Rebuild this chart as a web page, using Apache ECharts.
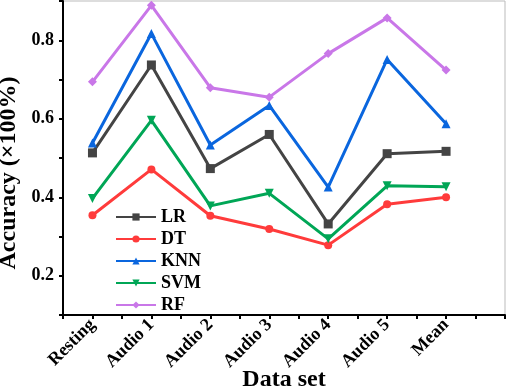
<!DOCTYPE html>
<html lang="en">
<head>
	<meta charset="UTF-8">
	<title>Accuracy</title>
	<style>
	body, div {
		margin: 0;
		padding: 0;
	}
	#echart {
		width: 512px;
		height: 389px;
	}
	</style>
</head>
<body>
	<div id="echart"></div>

	<script src="https://cdn.jsdelivr.net/npm/echarts@6/dist/echarts.min.js"></script>

	<script>
	// data
	var categories = ['Resting', 'Audio 1', 'Audio 2', 'Audio 3', 'Audio 4', 'Audio 5', 'Mean'];
	var lr  = [0.513, 0.737, 0.473, 0.560, 0.332, 0.511, 0.517];
	var dt  = [0.354, 0.471, 0.353, 0.319, 0.278, 0.382, 0.400];
	var knn = [0.538, 0.817, 0.533, 0.634, 0.426, 0.751, 0.587];
	var svm = [0.397, 0.596, 0.378, 0.410, 0.294, 0.429, 0.427];
	var rf  = [0.694, 0.889, 0.679, 0.655, 0.766, 0.857, 0.724];
	var yLabels = [0.2, 0.4, 0.6, 0.8];

	var font = 'Liberation Serif';

	function pts(arr) {
		return arr.map(function (v, i) { return [i + 1, v]; });
	}

	function line(name, arr, color, symbol, rotate) {
		return {
			name: name,
			type: 'line',
			data: pts(arr),
			symbol: symbol,
			symbolSize: symbol === 'circle' ? 8 : 9,
			symbolRotate: rotate || 0,
			lineStyle: { width: 3, color: color },
			itemStyle: { color: color },
			z: 3
		};
	}

	var myEchart = echarts.init(document.getElementById('echart'));

	var option = {
		animation: false,
		grid: {
			left: 63,
			right: 7,
			top: 1,
			bottom: 74,
			outerBoundsMode: 'none',
			containLabel: false,
			show: true,
			borderColor: '#bbbbbb',
			borderWidth: 1
		},
		legend: {
			orient: 'vertical',
			left: 110,
			top: 203,
			itemWidth: 40,
			itemHeight: 9,
			itemGap: 4,
			textStyle: { fontFamily: font, fontWeight: 'bold', fontSize: 18, lineHeight: 17, color: '#000' },
			data: ['LR', 'DT', 'KNN', 'SVM', 'RF']
		},
		xAxis: {
			type: 'value',
			min: 0.5,
			max: 8,
			interval: 0.5,
			name: 'Data set',
			nameLocation: 'middle',
			nameGap: 53,
			nameMoveOverlap: false,
			nameTextStyle: { fontFamily: font, fontWeight: 'bold', fontSize: 24, color: '#000' },
			splitLine: { show: false },
			axisLine: { lineStyle: { color: '#000', width: 2 } },
			axisTick: { length: 4, lineStyle: { color: '#000', width: 2 } },
			axisLabel: {
				rotate: 45,
				margin: 7,
				fontFamily: font,
				fontWeight: 'bold',
				fontSize: 18,
				color: '#000',
				formatter: function (v) {
					if (Number.isInteger(v) && v >= 1 && v <= categories.length) return categories[v - 1];
					return '';
				}
			}
		},
		yAxis: {
			type: 'value',
			min: 0.1,
			max: 0.9,
			interval: 0.1,
			name: 'Accuracy (×100%)',
			nameLocation: 'middle',
			nameGap: 42,
			nameMoveOverlap: false,
			nameTextStyle: { fontFamily: font, fontWeight: 'bold', fontSize: 24, color: '#000', padding: [0, 30, 0, 0] },
			splitLine: { show: false },
			axisLine: { lineStyle: { color: '#000', width: 2 } },
			axisTick: { length: 4, lineStyle: { color: '#000', width: 2 } },
			axisLabel: {
				margin: 9,
				fontFamily: font,
				fontWeight: 'bold',
				fontSize: 18,
				color: '#000',
				formatter: function (v) {
					var r = Math.round(v * 10) / 10;
					return yLabels.indexOf(r) >= 0 ? r.toFixed(1) : '';
				}
			}
		},
		series: [
			line('LR', lr, '#444444', 'rect'),
			line('DT', dt, '#ff3b3b', 'circle'),
			line('KNN', knn, '#0a66de', 'triangle'),
			line('SVM', svm, '#00a656', 'triangle', 180),
			line('RF', rf, '#c977e8', 'diamond')
		]
	};

	myEchart.setOption(option);
	</script>
</body>
</html>
